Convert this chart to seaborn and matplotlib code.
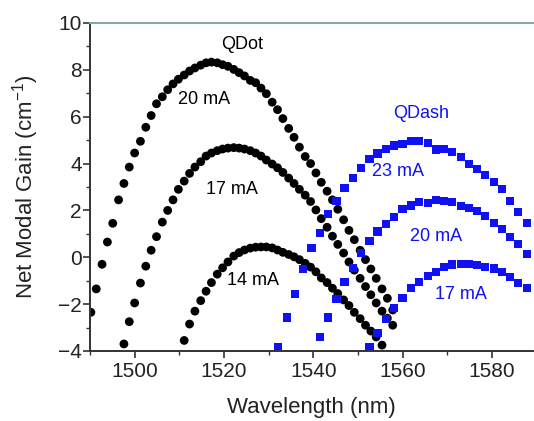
import pandas as pd
import matplotlib
matplotlib.use("Agg")
import matplotlib.pyplot as plt
import seaborn as sns
from matplotlib.ticker import MultipleLocator

# QDot measurement grid (nm)
qdot_wl = [1490.2, 1491.4, 1492.7, 1493.9, 1495.1, 1496.4, 1497.6, 1498.8, 1500.0, 1501.3,
           1502.5, 1503.7, 1504.9, 1506.2, 1507.4, 1508.6, 1509.8, 1511.1, 1512.3, 1513.5,
           1514.8, 1516.0, 1517.2, 1518.5, 1519.7, 1520.9, 1522.2, 1523.4, 1524.6, 1525.9,
           1527.1, 1528.3, 1529.5, 1530.8, 1532.0, 1533.2, 1534.5, 1535.7, 1536.9, 1538.2,
           1539.4, 1540.6, 1541.8, 1543.1, 1544.3, 1545.5, 1546.8, 1548.0, 1549.2, 1550.5,
           1551.7, 1552.9, 1554.1, 1555.4, 1556.6, 1557.8]

qdot_20 = [-2.35, -1.35, -0.30, 0.65, 1.45, 2.45, 3.15, 3.85, 4.45, 4.95,
           5.55, 6.05, 6.55, 6.85, 7.15, 7.40, 7.60, 7.78, 7.95, 8.08,
           8.20, 8.30, 8.33, 8.30, 8.22, 8.15, 8.02, 7.88, 7.74, 7.55,
           7.45, 7.22, 6.98, 6.62, 6.30, 5.92, 5.50, 5.12, 4.70, 4.30,
           4.00, 3.60, 3.20, 2.82, 2.45, 2.05, 1.60, 1.15, 0.75, 0.30,
           -0.10, -0.50, -0.90, -1.35, -1.75, -2.25]

# starts at qdot_wl[6]
qdot_17 = [-3.70, -2.75, -1.95, -1.10, -0.38, 0.30, 0.88, 1.50, 2.00, 2.45,
           2.90, 3.25, 3.58, 3.85, 4.08, 4.32, 4.45, 4.55, 4.62, 4.66,
           4.68, 4.66, 4.62, 4.55, 4.45, 4.32, 4.15, 3.98, 3.82, 3.62,
           3.38, 3.15, 2.90, 2.65, 2.38, 2.02, 1.65, 1.28, 0.90, 0.55,
           0.18, -0.20, -0.55, -0.90, -1.25, -1.60, -1.95, -2.30, -2.60, -2.90]

# starts at qdot_wl[17]
qdot_14 = [-3.55, -2.85, -2.30, -1.85, -1.45, -1.08, -0.72, -0.45, -0.20, 0.05,
           0.20, 0.31, 0.39, 0.43, 0.44, 0.44, 0.40, 0.31, 0.21, 0.12,
           0.02, -0.10, -0.26, -0.42, -0.62, -0.88, -1.08, -1.32, -1.55, -1.82,
           -2.06, -2.35, -2.62, -2.90, -3.15, -3.40, -3.75]

# QDash measurement grid (nm)
qdash_wl = [1532.2, 1534.1, 1535.9, 1537.8, 1539.6, 1541.5, 1543.3, 1545.2, 1547.0, 1548.9,
            1550.7, 1552.6, 1554.4, 1556.3, 1558.1, 1560.0, 1561.8, 1563.7, 1565.6, 1567.4,
            1569.3, 1571.1, 1573.0, 1574.8, 1576.7, 1578.5, 1580.4, 1582.2, 1584.1, 1585.9,
            1587.8]

qdash_23 = [-3.84, -2.57, -1.57, -0.51, 0.41, 1.05, 1.83, 2.40, 2.94, 3.40,
            3.82, 4.20, 4.43, 4.61, 4.77, 4.83, 4.97, 4.95, 4.88, 4.60,
            4.64, 4.50, 4.27, 3.99, 3.78, 3.53, 3.21, 2.90, 2.40, 1.95,
            1.48]

# starts at qdash_wl[5]
qdash_20 = [-3.42, -2.57, -1.80, -1.05, -0.44, 0.18, 0.68, 1.10, 1.42, 1.72,
            2.05, 2.21, 2.35, 2.32, 2.46, 2.40, 2.35, 2.18, 2.10, 1.96,
            1.76, 1.48, 1.22, 0.86, 0.55, 0.13]

# starts at qdash_wl[11]
qdash_17 = [-3.84, -3.25, -2.64, -2.17, -1.72, -1.32, -1.05, -0.79, -0.61, -0.42,
            -0.31, -0.30, -0.30, -0.33, -0.40, -0.48, -0.62, -0.85, -1.10, -1.30]

qdot_labels = ["20 mA", "17 mA", "14 mA"]
qdash_labels = ["23 mA", "20 mA", "17 mA"]


def long_table(grid, series):
    rows = []
    for label, start, vals in series:
        for w, g in zip(grid[start:start + len(vals)], vals):
            rows.append({"wl": w, "gain": g, "current": label})
    return pd.DataFrame(rows)


dot = long_table(qdot_wl, [("20 mA", 0, qdot_20), ("17 mA", 6, qdot_17), ("14 mA", 17, qdot_14)])
dash = long_table(qdash_wl, [("23 mA", 0, qdash_23), ("20 mA", 5, qdash_20), ("17 mA", 11, qdash_17)])

sns.set_style("white")
plt.rcParams["font.family"] = ["Liberation Sans", "DejaVu Sans"]
plt.rcParams["mathtext.default"] = "regular"

fig = plt.figure(figsize=(5.34, 4.21), dpi=100)
ax = fig.add_axes([0.1685, 0.1663, 0.8295, 0.7791])

sns.scatterplot(data=dot, x="wl", y="gain", color="black", marker="o", s=40,
                edgecolor="none", legend=False, ax=ax)
sns.scatterplot(data=dash, x="wl", y="gain", color="#1010f5", marker="s", s=34,
                edgecolor="none", legend=False, ax=ax)

ax.set_xlim(1490, 1589.2)
ax.set_ylim(-4, 10)
ax.xaxis.set_major_locator(MultipleLocator(20))
ax.xaxis.set_minor_locator(MultipleLocator(10))
ax.yaxis.set_major_locator(MultipleLocator(2))
ax.yaxis.set_minor_locator(MultipleLocator(1))
ax.tick_params(which="major", direction="out", length=5, width=1.2, color="#333333",
               labelsize=15, labelcolor="#222222", bottom=True, left=True)
ax.tick_params(axis="y", which="major", pad=1)
ax.tick_params(axis="x", which="major", pad=3)
ax.tick_params(which="minor", direction="out", length=3, width=1.0, color="#333333",
               bottom=True, left=True)

for side in ["left", "bottom"]:
    ax.spines[side].set_color("#333333")
    ax.spines[side].set_linewidth(1.4)
ax.spines["right"].set_visible(False)
ax.spines["top"].set_color("#7fa99b")
ax.spines["top"].set_linewidth(1.4)

ax.set_xlabel("Wavelength (nm)", fontsize=16, color="#222222")
ax.set_ylabel("Net Modal Gain (cm$^{-1}$)", fontsize=16, color="#222222")
ax.xaxis.set_label_coords(0.5, -0.14)
ax.yaxis.set_label_coords(-0.11, 0.5)

ax.text(1524.1, 9.1, "QDot", fontsize=13, color="black", ha="center", va="center")
for lbl, (x, y) in zip(qdot_labels, [(1515.6, 6.72), (1521.7, 2.9), (1526.4, -1.0)]):
    ax.text(x, y, lbl, fontsize=13, color="black", ha="center", va="center")
ax.text(1564.2, 6.13, "QDash", fontsize=13, color="#1010f5", ha="center", va="center")
for lbl, (x, y) in zip(qdash_labels, [(1559.0, 3.66), (1567.6, 0.87), (1573.1, -1.6)]):
    ax.text(x, y, lbl, fontsize=13, color="#1010f5", ha="center", va="center")

fig.savefig("out.png", dpi=100)
